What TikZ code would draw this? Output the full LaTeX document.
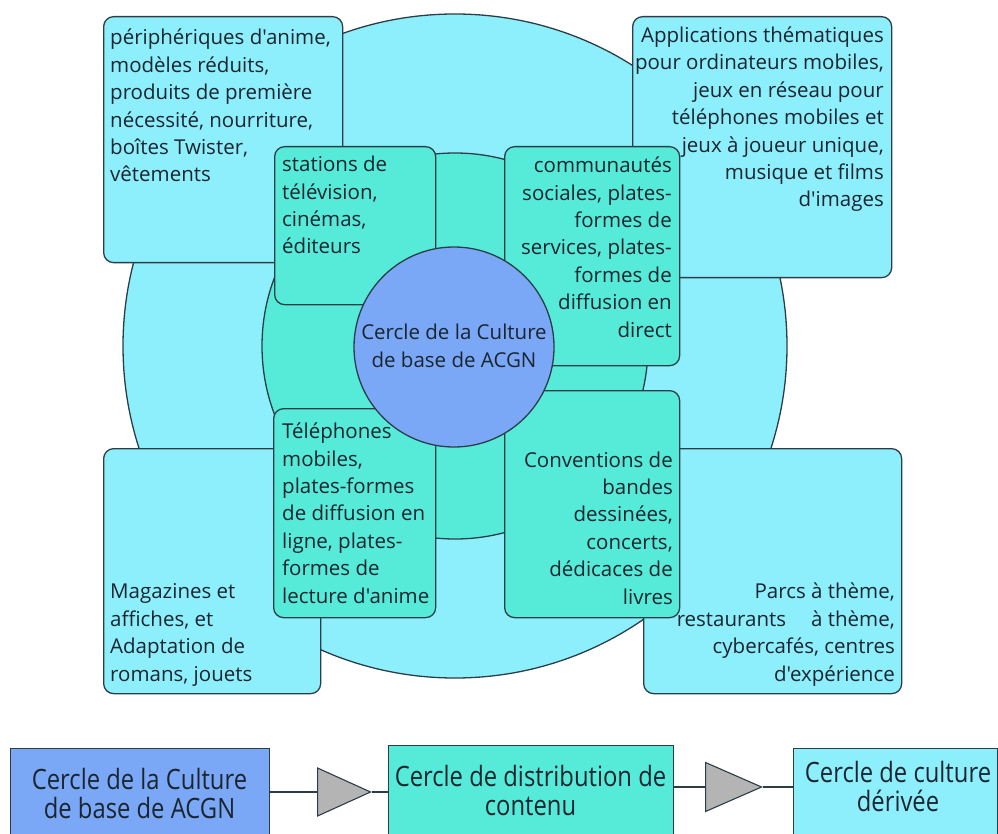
\documentclass[tikz,border=0pt]{standalone}
\usepackage{fontspec}
\setmainfont[Ligatures=TeXOff]{Open Sans}
\newfontfamily\narrowfont[FakeStretch=0.85]{Open Sans}
\usetikzlibrary{shapes.geometric}
\definecolor{outerc}{HTML}{8EEFFC}
\definecolor{midc}{HTML}{56EBD9}
\definecolor{corec}{HTML}{7BA8F6}
\definecolor{linec}{HTML}{2B3E48}
\definecolor{textc}{HTML}{1A2530}
\definecolor{tric}{HTML}{B4B4B4}
\begin{document}
\begin{tikzpicture}[x=1pt,y=-1pt,
  ring/.style={draw=linec, line width=1.3pt, circle, inner sep=0pt},
  box/.style={draw=linec, line width=1.3pt, rounded corners=10pt, anchor=north west, inner sep=0pt},
  flatbox/.style={draw=linec, line width=1.1pt, anchor=north west, inner sep=0pt},
  txt/.style={text=textc, inner sep=0pt, font=\fontsize{20.5}{27.4}\selectfont},
  bigtxt/.style={text=textc, inner sep=0pt, align=center, anchor=base, font=\narrowfont\fontsize{28}{29}\selectfont},
  wedge/.style={draw=linec, line width=1.1pt, fill=tric, isosceles triangle, isosceles triangle stretches, inner sep=0pt, anchor=lower side}]
\useasboundingbox (0,0) rectangle (998,834);
\node[ring, fill=outerc, minimum size=664pt] (outer) at (455,346) {};
\node[ring, fill=midc, minimum size=386pt] (middle) at (455,346) {};
\node[box, fill=outerc, minimum width=239pt, minimum height=246pt] (outtl) at (103,16) {};
\node[box, fill=outerc, minimum width=259pt, minimum height=261pt] (outtr) at (632,16) {};
\node[box, fill=outerc, minimum width=217pt, minimum height=245pt] (outbl) at (103,448) {};
\node[box, fill=outerc, minimum width=258pt, minimum height=245pt] (outbr) at (643,448) {};
\node[box, fill=midc, minimum width=161pt, minimum height=158pt] (midtl) at (274,146) {};
\node[box, fill=midc, minimum width=175pt, minimum height=219pt] (midtr) at (504,146) {};
\node[box, fill=midc, minimum width=162pt, minimum height=209pt] (midbl) at (273,408) {};
\node[box, fill=midc, minimum width=175pt, minimum height=227pt] (midbr) at (504,390) {};
\node[ring, fill=corec, minimum size=200pt] (core) at (454,347) {};
\node[txt, anchor=base west, align=left] (touttl) at (110,182) {périphériques d'anime,\\modèles réduits,\\produits de première\\nécessité, nourriture,\\boîtes Twister,\\vêtements};
\node[txt, anchor=base east, align=right] (touttr) at (884,207) {Applications thématiques\\pour ordinateurs mobiles,\\jeux en réseau pour\\téléphones mobiles et\\jeux à joueur unique,\\musique et films\\d'images};
\node[txt, anchor=base west, align=left] (toutbl) at (110,681) {Magazines et\\affiches, et\\Adaptation de\\romans, jouets};
\node[txt, anchor=base east, align=right] (toutbr) at (895,681) {Parcs à thème,\\restaurants\hspace{25pt}à thème,\\cybercafés, centres\\d'expérience};
\node[txt, anchor=base west, align=left] (tmidtl) at (282,254) {stations de\\télévision,\\cinémas,\\éditeurs};
\node[txt, anchor=base east, align=right] (tmidtr) at (672,337) {communautés\\sociales, plates-\\formes de\\services, plates-\\formes de\\diffusion en\\direct};
\node[txt, anchor=base west, align=left] (tmidbl) at (282,603) {Téléphones\\mobiles,\\plates-formes\\de diffusion en\\ligne, plates-\\formes de\\lecture d'anime};
\node[txt, anchor=base east, align=right] (tmidbr) at (673,604) {Conventions de\\bandes\\dessinées,\\concerts,\\dédicaces de\\livres};
\node[txt, anchor=base, align=center] (tcore) at (454,367) {Cercle de la Culture\\de base de ACGN};
\node[flatbox, fill=corec, minimum width=259pt, minimum height=100pt] (b1) at (10,748) {};
\node[flatbox, fill=midc, minimum width=285pt, minimum height=100pt] (b2) at (388,745) {};
\node[flatbox, fill=outerc, minimum width=204pt, minimum height=100pt] (b3) at (793,748) {};
\node[bigtxt] (tb1) at (139.5,818) {Cercle de la Culture\\de base de ACGN};
\node[bigtxt] (tb2) at (530.5,815) {Cercle de distribution de\\contenu};
\node[bigtxt] (tb3) at (898,811) {Cercle de culture\\dérivée};
\node[wedge, minimum width=48pt, minimum height=53pt] (w1) at (317,792) {};
\node[wedge, minimum width=49pt, minimum height=56pt] (w2) at (705,787) {};
\draw[linec, line width=1.1pt] (w1.lower side -| b1.east) -- (w1.lower side);
\draw[linec, line width=1.1pt] (w1.apex) -- (w1.apex -| b2.west);
\draw[linec, line width=1.1pt] (w2.lower side -| b2.east) -- (w2.lower side);
\draw[linec, line width=1.1pt] (w2.apex) -- (w2.apex -| b3.west);
\end{tikzpicture}
\end{document}
